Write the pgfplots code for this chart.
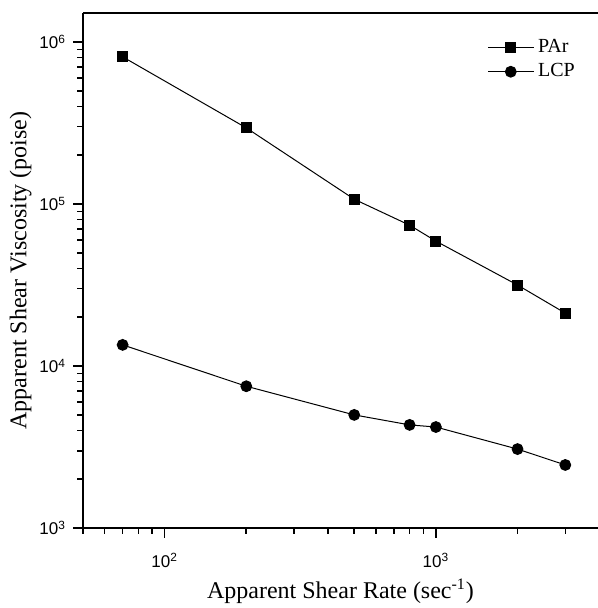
\documentclass[border=0pt]{standalone}
\usepackage{fontspec}
\setmainfont{Liberation Serif}
\setsansfont{Liberation Sans}
\usepackage{pgfplots}
\pgfplotsset{compat=1.18}
\usetikzlibrary{calc}

\begin{document}
\begin{tikzpicture}
\begin{axis}[
    xmode=log, ymode=log,
    scale only axis,
    width=257.5pt, height=257.5pt,
    xmin=50, xmax=3960,
    ymin=1e3, ymax=1.51e6,
    axis lines=left,
    axis line style={-, line width=1pt},
    tick align=outside,
    major tick length=5pt,
    minor tick length=3pt,
    every tick/.style={black, line width=0.8pt},
    xtick={100,1000},
    xticklabels={10\textsuperscript{2},10\textsuperscript{3}},
    minor xtick={50,60,70,80,90,200,300,400,500,600,700,800,900,2000,3000},
    ytick={1e3,1e4,1e5,1e6},
    yticklabels={10\textsuperscript{3},10\textsuperscript{4},10\textsuperscript{5},10\textsuperscript{6}},
    minor ytick={2e3,3e3,4e3,5e3,6e3,7e3,8e3,9e3,2e4,3e4,4e4,5e4,6e4,7e4,8e4,9e4,2e5,3e5,4e5,5e5,6e5,7e5,8e5,9e5},
    tick label style={font=\sffamily\fontsize{8.5}{10}\selectfont},
    xticklabel style={yshift=-4pt},
    xlabel={Apparent Shear Rate (sec\textsuperscript{-1})},
    ylabel={Apparent Shear Viscosity (poise)},
    label style={font=\fontsize{12}{14}\selectfont},
    xlabel style={yshift=1pt},
    ylabel style={yshift=-3pt},
    legend style={draw=none, fill=none, at={(0.975,0.965)}, anchor=north east,
        font=\fontsize{10}{12}\selectfont, row sep=0pt},
    legend cell align=left,
    legend image code/.code={\draw[mark repeat=2,mark phase=2] plot coordinates {(0cm,0cm) (0.4cm,0cm) (0.8cm,0cm)};},
]
\draw[line width=1pt] (rel axis cs:0,1) -- (rel axis cs:1,1);

\addplot[black, line width=0.5pt, mark=square*, mark size=2.5pt] coordinates {
    (70,8.1e5) (200,2.95e5) (500,1.07e5) (800,7.4e4) (1000,5.9e4) (2000,3.16e4) (3000,2.12e4)
};
\addlegendentry{PAr}

\addplot[black, line width=0.5pt, mark=*, mark size=2.7pt] coordinates {
    (70,1.35e4) (200,7.5e3) (500,4.99e3) (800,4.33e3) (1000,4.2e3) (2000,3.07e3) (3000,2.45e3)
};
\addlegendentry{LCP}
\end{axis}
\pgfresetboundingbox
\path ($(current axis.south west)+(-41.5pt,-40pt)$) rectangle ($(current axis.north east)+(0,6.5pt)$);
\end{tikzpicture}
\end{document}
